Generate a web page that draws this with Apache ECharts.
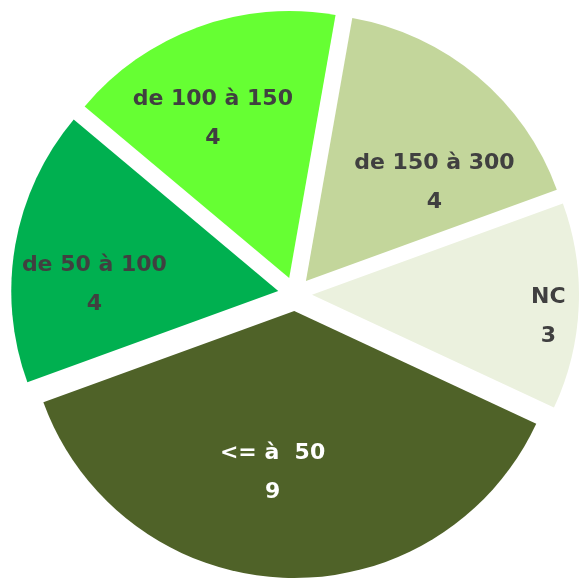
<!DOCTYPE html>
<html>
<head>
<meta charset="utf-8">
<script src="https://cdn.jsdelivr.net/npm/echarts@6/dist/echarts.min.js"></script>
<style>
  html, body { margin: 0; padding: 0; background: #fff; }
  #chart { width: 584px; height: 578px; }
</style>
</head>
<body>
<div id="chart"></div>
<script>
// categories and counts
const categories = ['<= à  50', 'de 50 à 100', 'de 100 à 150', 'de 150 à 300', 'NC']
const counts = [9, 4, 4, 4, 3]
const colors = ['#4F6228', '#00B050', '#66FF33', '#C3D69B', '#EBF1DE']
const textColors = ['#FFFFFF', '#404040', '#404040', '#404040', '#404040']

// small nudges so labels sit where the original "best fit" put them
const labelNudge = [[-14, -15], [-10, 24], [-16, 7], [15, 37], [60, 14]]

const chart = echarts.init(document.getElementById('chart'))

const center = [295, 294]
const R = 267
const explode = 17

// visible slices, all "selected" so each one is pulled out a bit
const sliceData = categories.map((name, i) => ({
  name,
  value: counts[i],
  selected: true,
  itemStyle: { color: colors[i] }
}))

// transparent copy used only to put the labels further out than r/2
const labelData = categories.map((name, i) => ({
  name,
  value: counts[i],
  selected: true,
  itemStyle: { color: 'rgba(0,0,0,0)' },
  label: { color: textColors[i] }
}))

const option = {
  backgroundColor: '#ffffff',
  animation: false,
  series: [
    {
      type: 'pie',
      center,
      radius: [0, R],
      startAngle: -25,
      clockwise: true,
      selectedMode: 'multiple',
      selectedOffset: explode,
      silent: true,
      label: { show: false },
      labelLine: { show: false },
      select: { itemStyle: { borderWidth: 0 } },
      data: sliceData
    },
    {
      type: 'pie',
      center,
      radius: [R * 0.3, R],
      startAngle: -25,
      clockwise: true,
      selectedMode: 'multiple',
      selectedOffset: explode,
      silent: true,
      avoidLabelOverlap: false,
      label: {
        show: true,
        position: 'inside',
        formatter: '{b}\n{c}',
        fontFamily: 'DejaVu Sans',
        fontWeight: 'bold',
        fontSize: 22,
        lineHeight: 39,
        align: 'center'
      },
      labelLayout: (params) => ({
        dx: labelNudge[params.dataIndex][0],
        dy: labelNudge[params.dataIndex][1]
      }),
      labelLine: { show: false },
      data: labelData
    }
  ]
}

chart.setOption(option)
</script>
</body>
</html>
